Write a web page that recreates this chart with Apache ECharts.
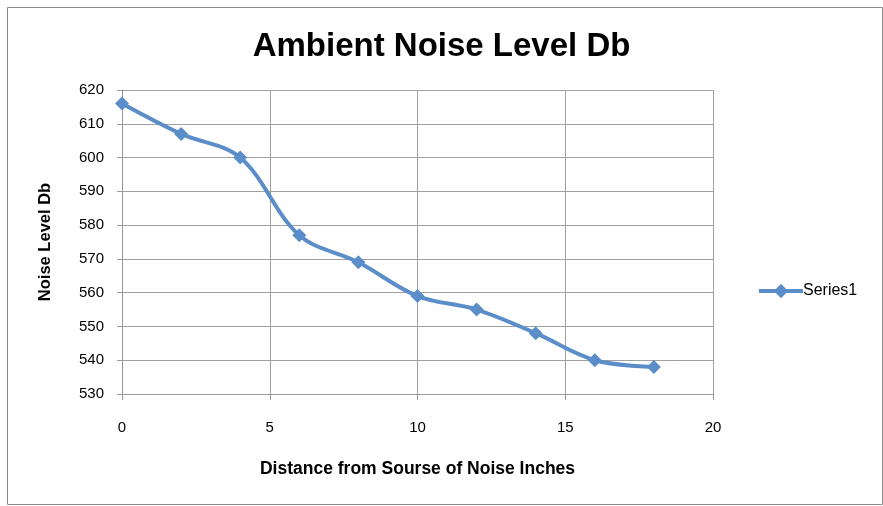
<!DOCTYPE html>
<html>
<head>
<meta charset="utf-8">
<script src="https://cdn.jsdelivr.net/npm/echarts@6/dist/echarts.min.js"></script>
<style>
html,body{margin:0;padding:0;background:#fff;}
#c{width:883px;height:506px;}
</style>
</head>
<body>
<div id="c"></div>
<script>
const chartTitle = "Ambient Noise Level Db";
const xAxisName = "Distance from Sourse of Noise Inches";
const yAxisName = "Noise Level Db";
const seriesName = "Series1";
const distances = [0, 2, 4, 6, 8, 10, 12, 14, 16, 18];
const noiseLevels = [616, 607, 600, 577, 569, 559, 555, 548, 540, 538];

const font = "'Liberation Sans', Arial, sans-serif";
const chart = echarts.init(document.getElementById('c'), null, {renderer: 'canvas'});
chart.setOption({
  animation: false,
  backgroundColor: '#fff',
  graphic: [{
    type: 'rect', left: 5, top: 5, z: -1,
    shape: {width: 875, height: 497},
    style: {fill: 'none', stroke: '#8c8c8c', lineWidth: 1}
  }],
  title: {
    text: chartTitle, left: 'center', top: 25,
    textStyle: {fontFamily: font, fontSize: 33, fontWeight: 'bold', color: '#000'}
  },
  legend: {
    data: [seriesName], orient: 'vertical', left: 752, top: 278,
    itemWidth: 44, itemHeight: 18, itemGap: 4,
    lineStyle: {width: 4},
    textStyle: {fontFamily: font, fontSize: 16, color: '#000', padding: [0,0,0,-5]}
  },
  grid: {left: 122, right: 170, top: 90, bottom: 112, containLabel: false},
  xAxis: {
    type: 'value', min: 0, max: 20, interval: 5,
    name: xAxisName, nameLocation: 'middle', nameGap: 66,
    nameTextStyle: {fontFamily: font, fontSize: 17.5, fontWeight: 'bold', color: '#000'},
    axisLine: {show: true, lineStyle: {color: '#999', width: 1}},
    axisTick: {show: true, length: 6, lineStyle: {color: '#999'}},
    axisLabel: {fontFamily: font, fontSize: 15, color: '#000', margin: 26},
    splitLine: {show: true, lineStyle: {color: '#a0a0a0', width: 1}}
  },
  yAxis: {
    type: 'value', min: 530, max: 620, interval: 10,
    name: yAxisName, nameLocation: 'middle', nameGap: 68, nameRotate: 90,
    nameTextStyle: {fontFamily: font, fontSize: 16.5, fontWeight: 'bold', color: '#000'},
    axisLine: {show: true, lineStyle: {color: '#999', width: 1}},
    axisTick: {show: true, length: 5, lineStyle: {color: '#999'}},
    axisLabel: {fontFamily: font, fontSize: 15, color: '#000', margin: 18},
    splitLine: {show: true, lineStyle: {color: '#a0a0a0', width: 1}}
  },
  series: [{
    name: seriesName, type: 'line', smooth: 0.35,
    data: distances.map((d, i) => [d, noiseLevels[i]]),
    symbol: 'diamond', symbolSize: 14,
    itemStyle: {color: '#5b8ec9'},
    lineStyle: {color: '#5b8ec9', width: 4}
  }]
});
</script>
</body>
</html>
